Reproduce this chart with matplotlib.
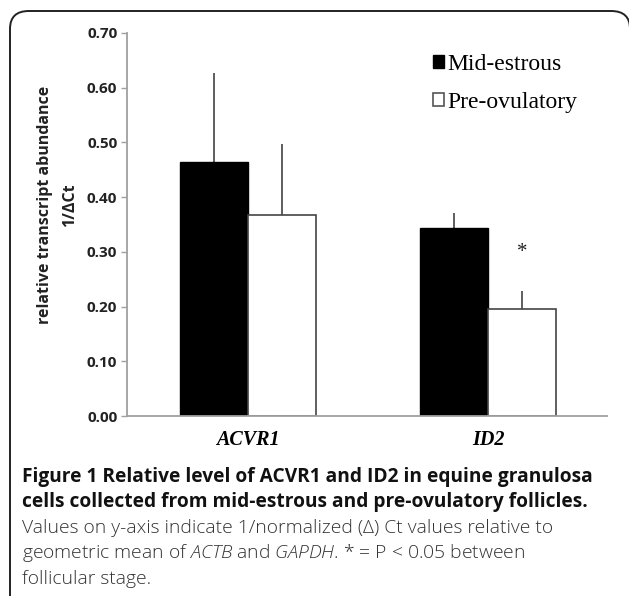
import matplotlib
matplotlib.use("Agg")
import matplotlib.pyplot as plt
from matplotlib.patches import FancyBboxPatch
import numpy as np

plt.rcParams["mathtext.fontset"] = "custom"
plt.rcParams["mathtext.it"] = "Open Sans:italic:light"
plt.rcParams["mathtext.rm"] = "Open Sans:light"

genes = ["ACVR1", "ID2"]
series = ["Mid-estrous", "Pre-ovulatory"]
mid_vals = [0.464, 0.344]
mid_err = [0.163, 0.027]
pre_vals = [0.367, 0.196]
pre_err = [0.130, 0.033]
yticks = [0.00, 0.10, 0.20, 0.30, 0.40, 0.50, 0.60, 0.70]

W, H = 629, 596
fig = plt.figure(figsize=(W / 100, H / 100), dpi=100)

# outer rounded frame
frame = FancyBboxPatch((10 / W, -0.05), (W - 9) / W, 1.05 - 11 / H,
                       boxstyle="round,pad=0,rounding_size=0.03",
                       transform=fig.transFigure, fill=False,
                       edgecolor="#222222", linewidth=1.4, zorder=0)
fig.patches.append(frame)

ax = fig.add_axes([127 / W, 1 - 416 / H, (607 - 127) / W, (416 - 33) / H])
x = np.arange(len(genes))
w = 0.283
axis_gray = "#a0a0a0"

ax.bar(x - w / 2, mid_vals, w, color="black", edgecolor="black", linewidth=1.0,
       label=series[0], zorder=2)
ax.bar(x + w / 2, pre_vals, w, color="white", edgecolor="#444444", linewidth=1.2,
       label=series[1], zorder=2)
ax.errorbar(x - w / 2, mid_vals, yerr=[np.zeros(2), mid_err], fmt="none",
            ecolor="#333333", elinewidth=1.1, capsize=0, zorder=1)
ax.errorbar(x + w / 2, pre_vals, yerr=[np.zeros(2), pre_err], fmt="none",
            ecolor="#333333", elinewidth=1.1, capsize=0, zorder=1)

# significance marker
ax.text(x[1] + w / 2, 0.298, "*", ha="center", va="center",
        fontsize=15, family="Liberation Serif", color="#222222")

ax.set_xlim(-0.504, 1.496)
ax.set_ylim(0, 0.70)
ax.set_yticks(yticks)
ax.set_yticklabels([f"{t:.2f}" for t in yticks], fontsize=11,
                   family="Open Sans", fontweight="bold", color="#222222")
ax.set_xticks(x)
ax.set_xticklabels(genes, fontsize=14.5, family="Liberation Serif",
                   fontweight="bold", style="italic")
ax.tick_params(axis="y", length=4, color=axis_gray, width=1, pad=3)
ax.tick_params(axis="x", length=0, pad=10)
for s in ["top", "right"]:
    ax.spines[s].set_visible(False)
for s in ["left", "bottom"]:
    ax.spines[s].set_color(axis_gray)
    ax.spines[s].set_linewidth(1.3)

fig.text(45 / W, 1 - 205 / H, "relative transcript abundance", rotation=90,
         ha="center", va="center", fontsize=11.5, family="Open Sans",
         fontweight="bold", color="#222222")
fig.text(70 / W, 1 - 205 / H, "1/\u0394Ct", rotation=90,
         ha="center", va="center", fontsize=11.5, family="Open Sans",
         fontweight="bold", color="#222222")

leg = ax.legend(loc="upper left", bbox_to_anchor=(433 / W, 1 - 54 / H),
                bbox_transform=fig.transFigure, frameon=False,
                prop={"family": "Liberation Serif", "size": 17},
                handlelength=0.45, handleheight=0.45, handletextpad=0.15,
                labelspacing=0.72, borderaxespad=0, borderpad=0)
leg.legend_handles[1].set_edgecolor("#555555")

cap_x = 22 / W
fig.text(cap_x, 1 - 477 / H,
         "Figure 1 Relative level of ACVR1 and ID2 in equine granulosa",
         fontsize=13.8, family="Open Sans", fontweight="bold", va="center",
         color="#111111")
fig.text(cap_x, 1 - 502 / H,
         "cells collected from mid-estrous and pre-ovulatory follicles.",
         fontsize=13.8, family="Open Sans", fontweight="bold", va="center",
         color="#111111")
fig.text(cap_x, 1 - 528 / H,
         "Values on y-axis indicate 1/normalized (\u0394) Ct values relative to",
         fontsize=13.9, family="Open Sans", fontweight="light", va="center",
         color="#333333")
fig.text(cap_x, 1 - 553 / H,
         r"geometric mean of $\it{ACTB}$ and $\it{GAPDH}$. * = P < 0.05 between",
         fontsize=13.9, family="Open Sans", fontweight="light", va="center",
         color="#333333")
fig.text(cap_x, 1 - 579 / H, "follicular stage.",
         fontsize=13.9, family="Open Sans", fontweight="light", va="center",
         color="#333333")

fig.savefig("out.png", dpi=100)
